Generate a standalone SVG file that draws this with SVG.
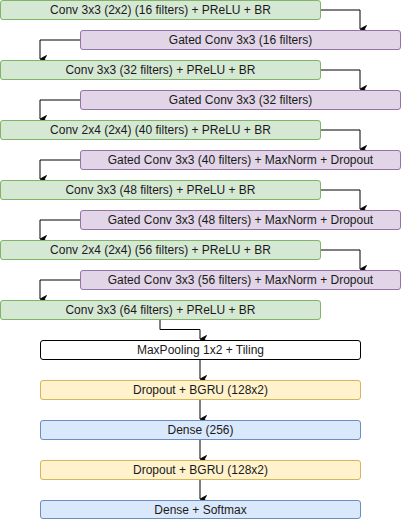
<svg xmlns="http://www.w3.org/2000/svg" width="402" height="520" viewBox="0 0 402 520">
<defs>
<marker id="ah" markerWidth="8" markerHeight="8" refX="4" refY="7" orient="auto-start-reverse" markerUnits="userSpaceOnUse" viewBox="0 0 8 8">
<path d="M0.5,0.5 L4,7 L7.5,0.5 L4,2.5 Z" fill="#000" stroke="#000" stroke-width="0.8"/>
</marker>
</defs>
<style>
rect{stroke-width:1}
.g{fill:#d5e8d4;stroke:#82b366}
.p{fill:#e1d5e7;stroke:#9673a6}
.w{fill:#ffffff;stroke:#000000}
.y{fill:#fff2cc;stroke:#d6b656}
.b{fill:#dae8fc;stroke:#6c8ebf}
text{font-family:"Liberation Sans",Arial,Helvetica,sans-serif;font-size:12px;fill:#1a1a1a;text-anchor:middle}
.c path{fill:none;stroke:#000;stroke-width:1}
</style>
<rect width="402" height="520" fill="#fff"/>
<g class="c" id="connectors">
<path d="M320.5,10 H360 V29" marker-end="url(#ah)"/>
<path d="M80,40 H40 V59" marker-end="url(#ah)"/>
<path d="M320.5,70 H360 V89" marker-end="url(#ah)"/>
<path d="M80,100 H40 V119" marker-end="url(#ah)"/>
<path d="M320.5,130 H360 V149" marker-end="url(#ah)"/>
<path d="M80,160 H40 V179" marker-end="url(#ah)"/>
<path d="M320.5,190 H360 V209" marker-end="url(#ah)"/>
<path d="M80,220 H40 V239" marker-end="url(#ah)"/>
<path d="M320.5,250 H360 V269" marker-end="url(#ah)"/>
<path d="M80,280 H40 V299" marker-end="url(#ah)"/>
<path d="M160,319.5 V329.5 H200 V339" marker-end="url(#ah)"/>
<path d="M200,359.5 V379" marker-end="url(#ah)"/>
<path d="M200,399.5 V419" marker-end="url(#ah)"/>
<path d="M200,439.5 V459" marker-end="url(#ah)"/>
<path d="M200,479.5 V499" marker-end="url(#ah)"/>
</g>
<g id="n1"><rect class="g" x="0.5" y="0.5" width="320" height="19" rx="2.5"/><text x="160.5" y="14.3">Conv 3x3 (2x2) (16 filters) + PReLU + BR</text></g>
<g id="n2"><rect class="p" x="80.5" y="30.5" width="320" height="19" rx="2.5"/><text x="240.5" y="44.3">Gated Conv 3x3 (16 filters)</text></g>
<g id="n3"><rect class="g" x="0.5" y="60.5" width="320" height="19" rx="2.5"/><text x="160.5" y="74.3">Conv 3x3 (32 filters) + PReLU + BR</text></g>
<g id="n4"><rect class="p" x="80.5" y="90.5" width="320" height="19" rx="2.5"/><text x="240.5" y="104.3">Gated Conv 3x3 (32 filters)</text></g>
<g id="n5"><rect class="g" x="0.5" y="120.5" width="320" height="19" rx="2.5"/><text x="160.5" y="134.3">Conv 2x4 (2x4) (40 filters) + PReLU + BR</text></g>
<g id="n6"><rect class="p" x="80.5" y="150.5" width="320" height="19" rx="2.5"/><text x="240.5" y="164.3">Gated Conv 3x3 (40 filters) + MaxNorm + Dropout</text></g>
<g id="n7"><rect class="g" x="0.5" y="180.5" width="320" height="19" rx="2.5"/><text x="160.5" y="194.3">Conv 3x3 (48 filters) + PReLU + BR</text></g>
<g id="n8"><rect class="p" x="80.5" y="210.5" width="320" height="19" rx="2.5"/><text x="240.5" y="224.3">Gated Conv 3x3 (48 filters) + MaxNorm + Dropout</text></g>
<g id="n9"><rect class="g" x="0.5" y="240.5" width="320" height="19" rx="2.5"/><text x="160.5" y="254.3">Conv 2x4 (2x4) (56 filters) + PReLU + BR</text></g>
<g id="n10"><rect class="p" x="80.5" y="270.5" width="320" height="19" rx="2.5"/><text x="240.5" y="284.3">Gated Conv 3x3 (56 filters) + MaxNorm + Dropout</text></g>
<g id="n11"><rect class="g" x="0.5" y="300.5" width="320" height="19" rx="2.5"/><text x="160.5" y="314.3">Conv 3x3 (64 filters) + PReLU + BR</text></g>
<g id="n12"><rect class="w" x="40.5" y="340.5" width="320" height="19" rx="2.5"/><text x="200.5" y="354.3">MaxPooling 1x2 + Tiling</text></g>
<g id="n13"><rect class="y" x="40.5" y="380.5" width="320" height="19" rx="2.5"/><text x="200.5" y="394.3">Dropout + BGRU (128x2)</text></g>
<g id="n14"><rect class="b" x="40.5" y="420.5" width="320" height="19" rx="2.5"/><text x="200.5" y="434.3">Dense (256)</text></g>
<g id="n15"><rect class="y" x="40.5" y="460.5" width="320" height="19" rx="2.5"/><text x="200.5" y="474.3">Dropout + BGRU (128x2)</text></g>
<g id="n16"><rect class="b" x="40.5" y="500.5" width="320" height="18" rx="2.5"/><text x="200.5" y="514">Dense + Softmax</text></g>
</svg>
